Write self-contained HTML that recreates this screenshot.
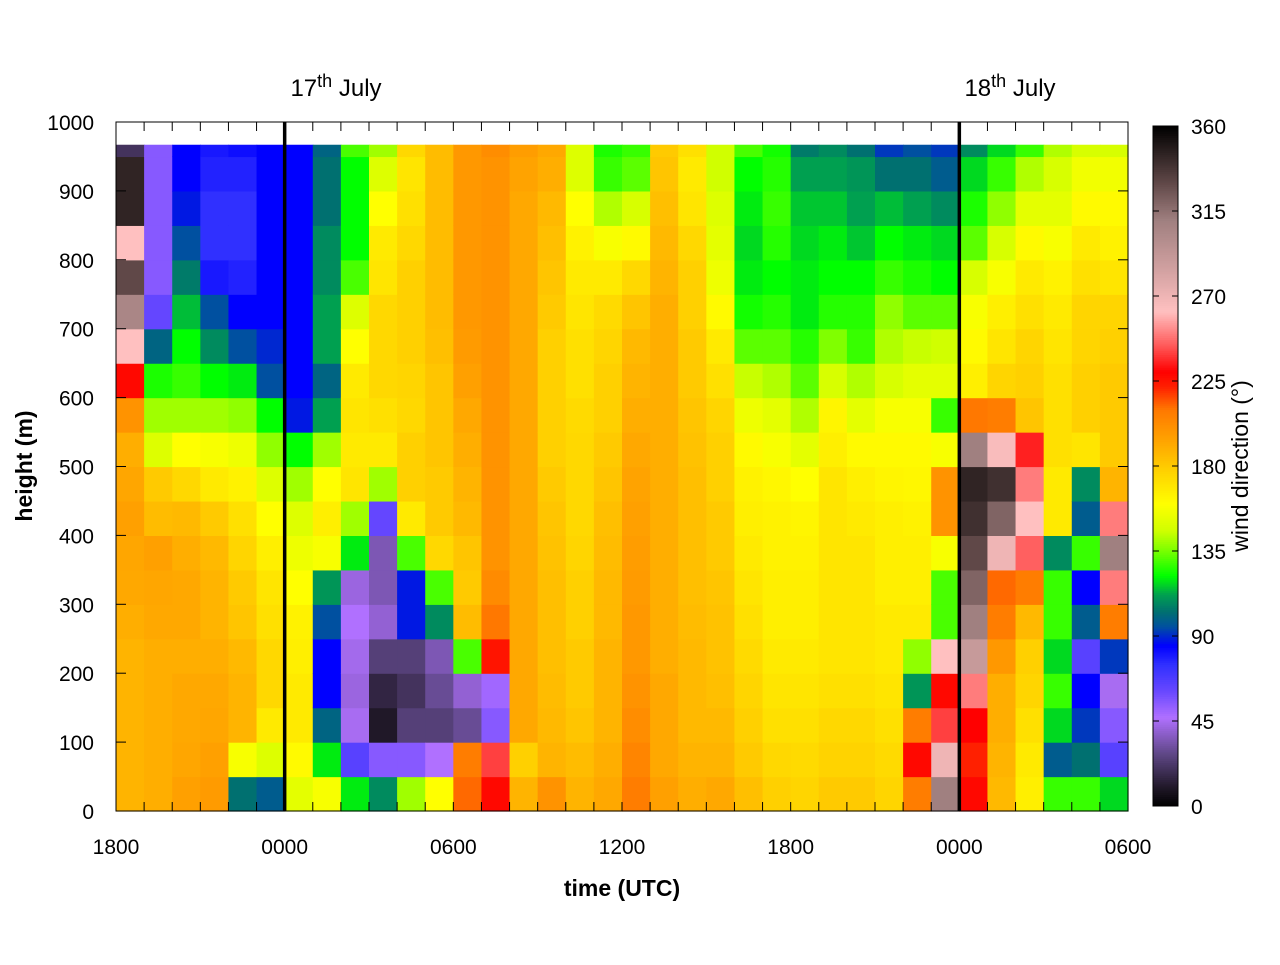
<!DOCTYPE html>
<html><head><meta charset="utf-8"><style>
body{margin:0;background:#fff;}
svg text{font-family:"Liberation Sans",sans-serif;fill:#000;}
</style></head><body>
<svg id="chart" width="1280" height="960" xmlns="http://www.w3.org/2000/svg"></svg>
<script>
// hours since 18:00 (column starts), heights (row centres, m)
const hours = Array.from({length:36},(_,i)=>i);
const heights = [25,75,125,175,225,275,325,375,425,475,525,575,625,675,725,775,825,875,925,975];
const xTickLabels = ["1800","0000","0600","1200","1800","0000","0600"];
const yTickLabels = [0,100,200,300,400,500,600,700,800,900,1000];
const cbTickLabels = [0,45,90,135,180,225,270,315,360];
// wind direction (deg) per hourly column, bottom -> top
const dirs = [
[188,188,188,188,188,190,192,193,195,193,190,200,228,262,305,330,262,345,345,20],
[190,190,190,190,190,192,193,195,185,180,150,140,125,100,62,55,55,55,55,55],
[195,193,192,192,190,192,192,190,186,175,160,140,128,122,115,105,95,88,85,85],
[197,195,193,192,190,188,188,186,180,168,158,140,122,108,95,80,75,75,78,80],
[103,158,188,188,186,182,180,176,172,165,155,138,120,95,85,78,75,75,78,82],
[98,150,168,175,175,172,170,166,160,150,138,122,95,90,85,85,85,85,85,85],
[152,162,168,168,166,165,160,155,150,140,122,88,85,85,85,85,85,85,85,85],
[158,120,100,85,85,95,110,158,166,160,140,112,100,112,112,108,108,103,103,100],
[120,65,45,42,44,47,42,120,140,170,168,170,168,160,150,130,122,122,122,130],
[108,55,10,15,25,40,35,35,62,140,168,172,175,175,175,170,168,160,150,140],
[140,55,25,20,25,88,88,130,168,178,178,175,176,178,178,178,175,172,170,175],
[160,47,25,30,35,108,130,175,180,180,182,182,182,184,185,185,185,185,185,185],
[212,208,30,40,130,185,180,182,186,188,190,192,195,197,198,198,198,198,198,198],
[228,240,55,50,225,210,203,200,200,200,200,200,200,200,200,200,200,200,200,202],
[188,178,192,192,192,192,192,192,192,192,192,192,192,192,192,192,192,192,194,196],
[200,188,186,185,184,184,184,183,182,180,178,178,178,178,180,182,184,186,190,192],
[188,185,182,180,180,178,178,176,175,175,175,174,172,172,170,168,165,160,150,150],
[192,190,188,188,188,186,186,185,184,182,180,178,178,176,174,168,158,142,128,125],
[208,205,202,200,198,198,197,196,195,194,192,190,188,186,182,175,162,148,132,128],
[195,192,192,192,190,190,190,190,190,190,190,190,190,190,190,188,186,184,182,180],
[190,188,186,186,186,185,184,184,184,184,183,182,180,180,178,178,175,170,168,172],
[192,188,186,184,183,183,182,180,180,178,178,176,172,168,162,155,152,150,146,146],
[184,180,178,176,174,172,170,168,166,165,162,155,145,132,124,120,118,120,122,130],
[178,175,172,170,168,166,166,165,165,163,158,152,142,132,126,122,126,128,126,124],
[176,174,172,170,168,166,166,165,164,160,152,142,132,126,120,120,118,116,112,105],
[180,177,175,172,170,170,170,170,170,170,166,164,148,136,126,122,120,116,112,108],
[180,177,175,172,170,170,170,170,168,166,162,152,142,128,126,122,116,112,110,103],
[176,174,172,170,168,168,166,166,166,164,162,158,148,142,138,128,122,115,103,92],
[208,228,208,110,138,168,166,166,165,163,162,158,152,145,132,125,120,112,103,95],
[310,270,240,228,262,130,130,158,200,200,158,128,152,146,132,122,118,108,98,92],
[228,222,230,250,290,310,320,330,340,345,310,210,166,162,158,148,132,125,118,108],
[186,188,190,190,198,208,212,270,320,340,265,208,176,170,166,158,148,138,128,118],
[166,168,172,176,178,186,208,245,262,250,235,182,178,176,172,168,162,152,142,128],
[128,98,118,128,118,128,128,108,168,168,172,172,172,170,168,165,158,152,148,142],
[128,103,92,85,65,98,85,128,98,108,170,178,178,176,176,172,168,162,156,148],
[118,65,55,45,92,208,250,310,250,188,180,180,180,178,176,170,165,162,156,148]
];

const L=116,R=1128,T=122,B=811, H=36, DATA_TOP=967;
const xS=h=>L+(R-L)*h/H;
const yS=m=>B-(B-T)*m/1000;
const stops=[[0,"#000000"],[10,"#201828"],[28,"#604888"],[47,"#b070ff"],[61,"#6848ff"],[75,"#3030ff"],[85,"#0000ff"],[95,"#0050a0"],[103,"#007070"],[112,"#00a050"],[122,"#00ff00"],[136,"#80ff00"],[146,"#d0ff00"],[160,"#ffff00"],[178,"#ffd000"],[195,"#ffa000"],[210,"#ff7800"],[222,"#ff2000"],[230,"#ff0000"],[245,"#ff6060"],[262,"#ffc0c0"],[285,"#d0a0a0"],[310,"#a08080"],[330,"#604848"],[360,"#000000"]];
function hex(c){return [1,3,5].map(i=>parseInt(c.substr(i,2),16));}
function cmap(v){v=Math.max(0,Math.min(360,v));for(let i=1;i<stops.length;i++){if(v<=stops[i][0]){const a=stops[i-1],b=stops[i];const t=(v-a[0])/(b[0]-a[0]);const ca=hex(a[1]),cb=hex(b[1]);return "rgb("+ca.map((x,k)=>Math.round(x+(cb[k]-x)*t)).join(",")+")";}}return "#000";}
const svg=document.getElementById('chart');
const NS="http://www.w3.org/2000/svg";
function mk(tag,attrs,parent){const e=document.createElementNS(NS,tag);for(const k in attrs)e.setAttribute(k,attrs[k]);(parent||svg).appendChild(e);return e;}

const g=mk('g',{});


hours.forEach((h,i)=>{
  heights.forEach((m,j)=>{
    const lo=m-25, hi=Math.min(m+25,DATA_TOP);
    const r=mk('rect',{x:xS(h),y:yS(hi),width:xS(h+1)-xS(h)+0.6,height:yS(lo)-yS(hi)+0.6,fill:cmap(dirs[i][j])},g);
    
    
  });
});
[6,30].forEach(h=>{const l=mk('line',{x1:xS(h),x2:xS(h),y1:T,y2:B,stroke:"#000","stroke-width":3.5});

});
const fr=mk('rect',{x:L,y:T,width:R-L,height:B-T,fill:"none",stroke:"#000","stroke-width":1});


for(let h=0;h<=H;h++){const x=xS(h);mk('line',{x1:x,x2:x,y1:B,y2:B-9,stroke:"#000"});mk('line',{x1:x,x2:x,y1:T,y2:T+9,stroke:"#000"});}
xTickLabels.forEach((s,i)=>{const t=mk('text',{x:xS(i*6),y:854,"text-anchor":"middle","font-size":21});t.textContent=s;

});
yTickLabels.forEach(v=>{const y=yS(v);mk('line',{x1:L,x2:L+10,y1:y,y2:y,stroke:"#000"});mk('line',{x1:R,x2:R-10,y1:y,y2:y,stroke:"#000"});
const t=mk('text',{x:94,y:y+8,"text-anchor":"end","font-size":21});t.textContent=v;

});
const CL=1153,CR=1178,CT=126,CB=806;
const cb=mk('g',{});


for(let v=0;v<360;v+=1){const y0=CB-(CB-CT)*(v+1)/360;mk('rect',{x:CL,y:y0,width:CR-CL,height:(CB-CT)/360+0.5,fill:cmap(v+0.5)},cb);}
mk('rect',{x:CL,y:CT,width:CR-CL,height:CB-CT,fill:"none",stroke:"#000"},cb);
cbTickLabels.forEach(v=>{const y=CB-(CB-CT)*v/360;mk('line',{x1:CL,x2:CL+6,y1:y,y2:y,stroke:"#000"},cb);mk('line',{x1:CR,x2:CR-6,y1:y,y2:y,stroke:"#000"},cb);
const t=mk('text',{x:1191,y:y+8,"font-size":21},cb);t.textContent=v;

});
</script>
<svg style="position:absolute;left:0;top:0" width="1280" height="960" xmlns="http://www.w3.org/2000/svg">
<text x="336" y="96" text-anchor="middle" font-size="24" style="font-family:'Liberation Sans',sans-serif">17<tspan dy="-9" font-size="18">th</tspan><tspan dy="9"> July</tspan></text>
<text x="1010" y="96" text-anchor="middle" font-size="24" style="font-family:'Liberation Sans',sans-serif">18<tspan dy="-9" font-size="18">th</tspan><tspan dy="9"> July</tspan></text>
<text x="622" y="896" text-anchor="middle" font-size="23" font-weight="bold" style="font-family:'Liberation Sans',sans-serif">time (UTC)</text>
<text transform="translate(32,466) rotate(-90)" text-anchor="middle" font-size="23" font-weight="bold" style="font-family:'Liberation Sans',sans-serif">height (m)</text>
<text transform="translate(1248,466) rotate(-90)" text-anchor="middle" font-size="23" style="font-family:'Liberation Sans',sans-serif">wind direction (°)</text>
</svg>
</body></html>
